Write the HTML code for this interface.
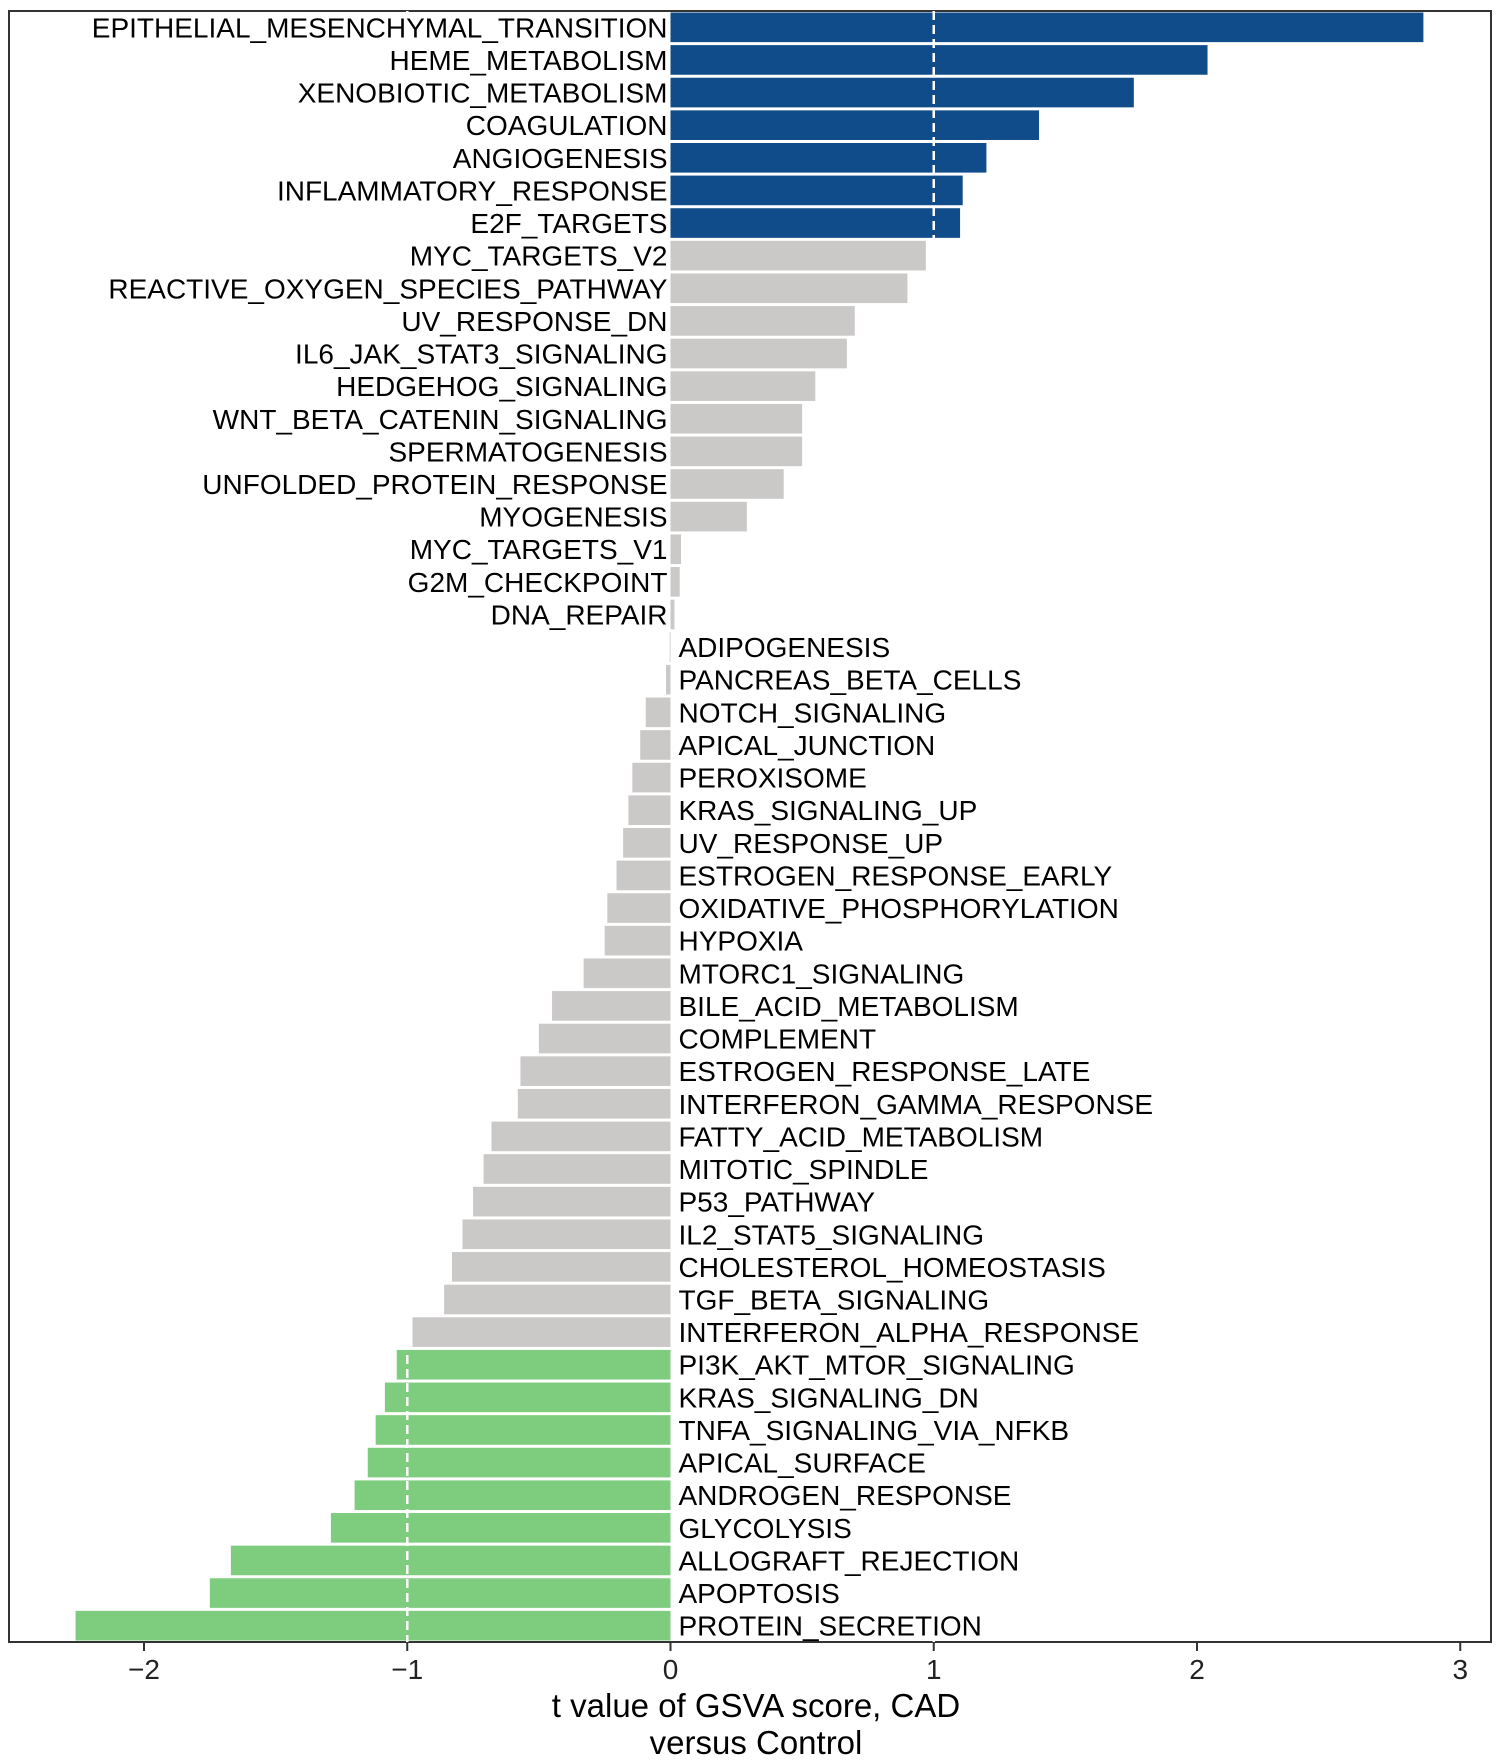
<!DOCTYPE html>
<html><head><meta charset="utf-8"><style>
html,body{margin:0;padding:0;background:#fff}
svg{display:block;font-family:"Liberation Sans",Arial,sans-serif}
</style></head><body>
<svg id="chart" width="1500" height="1764" viewBox="0 0 1500 1764" xmlns="http://www.w3.org/2000/svg">
<rect x="9" y="11" width="1482" height="1631" fill="#fff" stroke="#333" stroke-width="2"/>
<g id="bars"></g>
<g id="refs"></g>
<g id="labels" font-size="28" fill="#000"></g>
<g id="xaxis" font-size="28" fill="#222"></g>
<text x="756" y="1717" font-size="33" text-anchor="middle">t value of GSVA score, CAD</text>
<text x="756" y="1754" font-size="33" text-anchor="middle">versus Control</text>
</svg>
<script>
const categories = ["EPITHELIAL_MESENCHYMAL_TRANSITION","HEME_METABOLISM","XENOBIOTIC_METABOLISM","COAGULATION","ANGIOGENESIS","INFLAMMATORY_RESPONSE","E2F_TARGETS","MYC_TARGETS_V2","REACTIVE_OXYGEN_SPECIES_PATHWAY","UV_RESPONSE_DN","IL6_JAK_STAT3_SIGNALING","HEDGEHOG_SIGNALING","WNT_BETA_CATENIN_SIGNALING","SPERMATOGENESIS","UNFOLDED_PROTEIN_RESPONSE","MYOGENESIS","MYC_TARGETS_V1","G2M_CHECKPOINT","DNA_REPAIR","ADIPOGENESIS","PANCREAS_BETA_CELLS","NOTCH_SIGNALING","APICAL_JUNCTION","PEROXISOME","KRAS_SIGNALING_UP","UV_RESPONSE_UP","ESTROGEN_RESPONSE_EARLY","OXIDATIVE_PHOSPHORYLATION","HYPOXIA","MTORC1_SIGNALING","BILE_ACID_METABOLISM","COMPLEMENT","ESTROGEN_RESPONSE_LATE","INTERFERON_GAMMA_RESPONSE","FATTY_ACID_METABOLISM","MITOTIC_SPINDLE","P53_PATHWAY","IL2_STAT5_SIGNALING","CHOLESTEROL_HOMEOSTASIS","TGF_BETA_SIGNALING","INTERFERON_ALPHA_RESPONSE","PI3K_AKT_MTOR_SIGNALING","KRAS_SIGNALING_DN","TNFA_SIGNALING_VIA_NFKB","APICAL_SURFACE","ANDROGEN_RESPONSE","GLYCOLYSIS","ALLOGRAFT_REJECTION","APOPTOSIS","PROTEIN_SECRETION"];
const tValues = [2.86,2.04,1.76,1.40,1.20,1.11,1.10,0.97,0.90,0.70,0.67,0.55,0.50,0.50,0.43,0.29,0.04,0.035,0.015,-0.003,-0.017,-0.094,-0.115,-0.145,-0.16,-0.18,-0.205,-0.24,-0.25,-0.33,-0.45,-0.50,-0.57,-0.58,-0.68,-0.71,-0.75,-0.79,-0.83,-0.86,-0.98,-1.04,-1.085,-1.12,-1.15,-1.20,-1.29,-1.67,-1.75,-2.26];
const tickValues = [-2,-1,0,1,2,3];
const tickLabels = ["\u22122","\u22121","0","1","2","3"];
const thresholds = [-1,1];

const NS="http://www.w3.org/2000/svg";
const x0=670.5, unit=263.25, plotTop=11, plotBottom=1642, rowStep=(plotBottom-plotTop)/categories.length;
const xs=v=>x0+v*unit;
const yc=i=>plotTop+rowStep*(i+0.5);
function mk(tag,attrs,parent){const e=document.createElementNS(NS,tag);for(const k in attrs)e.setAttribute(k,attrs[k]);parent.appendChild(e);return e;}
const gb=document.getElementById('bars'),gl=document.getElementById('labels'),gr=document.getElementById('refs'),gx=document.getElementById('xaxis');
const bh=rowStep-3;
categories.forEach((c,i)=>{
  const v=tValues[i];
  const col=v>1?'#104c8a':(v<-1?'#7ecd7f':'#cbc8c8');
  const r=mk('rect',{x:Math.min(xs(0),xs(v)),y:yc(i)-bh/2,width:Math.abs(xs(v)-xs(0)),height:bh,fill:col},gb);
  
  
  const t=mk('text',{x:v>=0?xs(0)-3:xs(0)+8,y:yc(i)+10,'text-anchor':v>=0?'end':'start'},gl);
  t.textContent=c;
  
  
});
thresholds.forEach(v=>{
  const l=mk('line',{x1:xs(v),x2:xs(v),y1:plotTop,y2:plotBottom,stroke:'#fff','stroke-width':2.5,'stroke-dasharray':'9,5'},gr);
  
  
});
tickValues.forEach((v,i)=>{
  const tk=mk('line',{x1:xs(v),x2:xs(v),y1:plotBottom,y2:plotBottom+9,stroke:'#333','stroke-width':2},gx);
  
  
  const t=mk('text',{x:xs(v),y:plotBottom+37,'text-anchor':'middle'},gx);
  t.textContent=tickLabels[i];
  
  
});
</script>
</body></html>
